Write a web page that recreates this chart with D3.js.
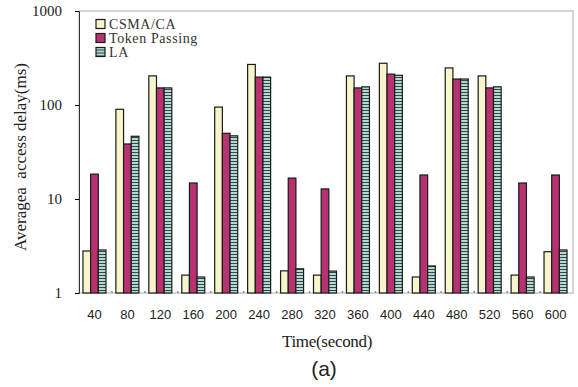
<!DOCTYPE html>
<html>
<head>
<meta charset="utf-8">
<script src="https://cdn.jsdelivr.net/npm/d3@7"></script>
<style>
  body { margin: 0; background: #fff; }
  svg { display: block; }
</style>
</head>
<body>
<div id="chart"></div>
<script>
// data
var times = ["40","80","120","160","200","240","280","320","360","400","440","480","520","560","600"]
var csma = [2.8, 90, 204, 1.55, 95, 270, 1.72, 1.55, 204, 278, 1.48, 248, 204, 1.55, 2.75]
var token = [18.4, 38.5, 152, 14.8, 50, 198, 16.7, 12.8, 152, 213, 18, 189, 152, 14.8, 18]
var la = [2.87, 46.5, 152, 1.48, 47, 198, 1.81, 1.71, 156, 207, 1.94, 189, 156, 1.48, 2.87]
var seriesNames = ["CSMA/CA", "Token Passing", "LA"]
var yTicks = [1, 10, 100, 1000]

var width = 578, height = 387
var margin = {top: 11, right: 5, bottom: 94, left: 79}

var svg = d3.select("#chart").append("svg")
    .attr("width", width)
    .attr("height", height)

var defs = svg.append("defs")
var pat = defs.append("pattern")
    .attr("id", "stripes")
    .attr("patternUnits", "userSpaceOnUse")
    .attr("width", 8).attr("height", 3)
pat.append("rect").attr("width", 8).attr("height", 3).attr("fill", "#b4d8d0")
pat.append("rect").attr("y", 2).attr("width", 8).attr("height", 1).attr("fill", "#2e4a48")

var fills = ["#f8f5cc", "#b83272", "url(#stripes)"]

var x0 = d3.scaleBand()
    .domain(times)
    .range([margin.left, width - margin.right])

var x1 = d3.scaleBand()
    .domain(seriesNames)
    .range([0, 23])

var y = d3.scaleLog()
    .domain([1, 1000])
    .range([height - margin.bottom, margin.top])

// frame
svg.append("rect")
    .attr("x", margin.left)
    .attr("y", margin.top)
    .attr("width", width - margin.right - margin.left)
    .attr("height", height - margin.bottom - margin.top)
    .attr("fill", "none")
    .attr("stroke", "#c8c8c8")
    .attr("stroke-width", 1.5)

// y axis
var yAxis = svg.append("g")
    .attr("transform", "translate(" + margin.left + ",0)")
    .call(d3.axisLeft(y).tickValues(yTicks).tickFormat(d3.format("d")).tickSize(4))
yAxis.select(".domain").attr("stroke", "#333")
yAxis.selectAll("text")
    .style("font-family", "'Liberation Serif', serif")
    .style("font-size", "15px")
    .attr("x", -17)
    .attr("fill", "#222")

// baseline dots between groups
svg.append("g")
    .selectAll("circle")
    .data(times.slice(1))
    .enter()
    .append("circle")
    .attr("cx", function(d) { return x0(d) })
    .attr("cy", y(1) - 1)
    .attr("r", 0.9)
    .attr("fill", "#888")

var groups = svg.append("g")
    .selectAll("g")
    .data(times)
    .enter()
    .append("g")
    .attr("transform", function(d) {
        return "translate(" + (x0(d) + (x0.bandwidth() - 23) / 2 - 1) + ",0)"
    })

groups.selectAll("rect")
    .data(function(d, i) {
        return [csma[i], token[i], la[i]].map(function(v, k) {
            return {name: seriesNames[k], value: v, k: k}
        })
    })
    .enter()
    .append("rect")
    .attr("x", function(d) { return x1(d.name) })
    .attr("y", function(d) { return y(d.value) })
    .attr("width", x1.bandwidth())
    .attr("height", function(d) { return y(1) - y(d.value) })
    .attr("fill", function(d) { return fills[d.k] })
    .attr("stroke", "#1a1a1a")
    .attr("stroke-width", 1.2)

// x tick labels
svg.append("g")
    .selectAll("text")
    .data(times)
    .enter()
    .append("text")
    .attr("x", function(d) { return x0(d) + x0.bandwidth() / 2 - 1 })
    .attr("y", 319)
    .attr("text-anchor", "middle")
    .style("font-family", "'Liberation Sans', Arial, sans-serif")
    .style("font-size", "13px")
    .attr("fill", "#222")
    .text(function(d) { return d })

// axis titles
svg.append("text")
    .attr("x", 327)
    .attr("y", 347)
    .attr("text-anchor", "middle")
    .style("font-family", "'Liberation Serif', serif")
    .style("font-size", "17px")
    .style("letter-spacing", "-0.3px")
    .attr("fill", "#222")
    .text("Time(second)")

svg.append("text")
    .attr("transform", "translate(26,157) rotate(-90)")
    .attr("text-anchor", "middle")
    .style("font-family", "'Liberation Serif', serif")
    .style("font-size", "17px")
    .style("white-space", "pre")
    .attr("fill", "#222")
    .text("Averagea  access delay(ms)")

svg.append("text")
    .attr("x", 324)
    .attr("y", 376)
    .attr("text-anchor", "middle")
    .style("font-family", "'Liberation Sans', Arial, sans-serif")
    .style("font-size", "21px")
    .attr("fill", "#222")
    .text("(a)")

// legend
var legend = svg.append("g")
    .selectAll("g")
    .data(seriesNames)
    .enter()
    .append("g")
    .attr("transform", function(d, i) { return "translate(96," + (19.5 + i * 14) + ")" })

legend.append("rect")
    .attr("width", 9)
    .attr("height", 9)
    .attr("fill", function(d, i) { return fills[i] })
    .attr("stroke", "#1a1a1a")
    .attr("stroke-width", 1.2)

legend.append("text")
    .attr("x", 13)
    .attr("y", 9)
    .style("font-family", "'Liberation Serif', serif")
    .style("font-size", "14px")
    .style("letter-spacing", "0.6px")
    .attr("fill", "#333")
    .text(function(d) { return d })
</script>
</body>
</html>
